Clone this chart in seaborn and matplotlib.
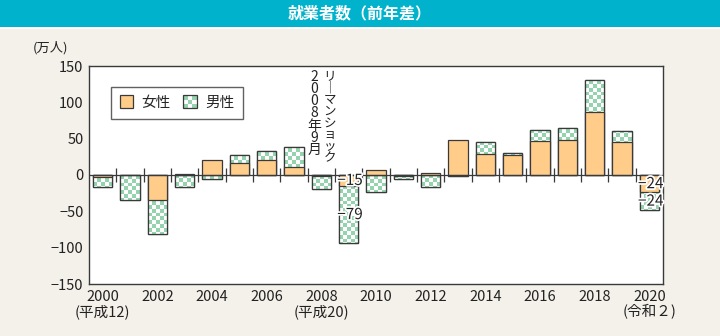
import numpy as np
import pandas as pd
import matplotlib
matplotlib.use("Agg")
import matplotlib.pyplot as plt
import seaborn as sns
from matplotlib.patches import Rectangle
from matplotlib.legend_handler import HandlerBase
import matplotlib.patheffects as pe

# ---- data (万人, change from previous year) ----
years = list(range(2000, 2021))
female = [-3, 0, -35, 2, 20, 17, 20, 11, -1, -15, 7, -1, 3, 48, 29, 27, 47, 48, 87, 46, -24]
male = [-14, -34, -46, -17, -5, 10, 13, 27, -18, -79, -23, -5, -17, -2, 16, 3, 15, 17, 44, 15, -24]
labeled_years = [2009, 2020]
tick_years = list(range(2000, 2021, 2))
tick_notes = {2000: "(平成12)", 2008: "(平成20)", 2020: "(令和２)"}
series_names = ["女性", "男性"]
title = "就業者数（前年差）"
unit_label = "(万人)"
event_col1 = "リ｜マンショック"
event_col2 = "2008年9月"
event_year = 2008

# ---- style ----
sns.set_style("white")
plt.rcParams["font.family"] = ["Noto Sans CJK JP", "DejaVu Sans"]
plt.rcParams["axes.unicode_minus"] = True

ORANGE = "#FFCC8A"
GREEN = "#94D3AD"
EDGE = "#3a3a3a"
BG = "#F4F1EA"
TEAL = "#00B2CB"
TXT = "#222222"

fig = plt.figure(figsize=(7.2, 3.36), dpi=100, facecolor=BG)
ax = fig.add_axes([89 / 720, 1 - 284 / 336, (663 - 89) / 720, (284 - 66) / 336])
ax.set_facecolor("white")

df = pd.DataFrame({"year": [str(y) for y in years], "female": female, "male": male})
same = np.sign(df["female"]) * np.sign(df["male"]) > 0
df["male_bottom"] = np.where(same, df["female"], 0)
df["male_disp"] = df["male_bottom"] + df["male"]

sns.barplot(data=df, x="year", y="male_disp", color=GREEN, saturation=1,
            edgecolor=EDGE, linewidth=0.9, width=0.7, ax=ax)
sns.barplot(data=df, x="year", y="female", color=ORANGE, saturation=1,
            edgecolor=EDGE, linewidth=0.9, width=0.7, ax=ax)
male_bars = ax.containers[0]
female_bars = ax.containers[1]

YMIN, YMAX = -150, 150
cell_y = 5.2
ny = int(round((YMAX - YMIN) / cell_y))
nx = 5
chk = np.add.outer(np.arange(ny), np.arange(nx)) % 2
g = np.array(matplotlib.colors.to_rgba(GREEN))
w = np.array([1, 1, 1, 1.0])
img = np.where(chk[..., None] == 0, g, w)

for p in male_bars.patches:
    p.set_zorder(2)
    x0, wd = p.get_x(), p.get_width()
    im = ax.imshow(img, extent=(x0, x0 + wd, YMIN, YMAX), origin="lower",
                   interpolation="nearest", aspect="auto", zorder=2.1)
    im.set_clip_path(p)
    ax.add_patch(Rectangle(p.get_xy(), p.get_width(), p.get_height(), fill=False,
                           edgecolor=EDGE, linewidth=0.9, zorder=2.2))
for p in female_bars.patches:
    p.set_zorder(3)

ax.set_xlim(-0.5, len(years) - 0.5)
ax.set_ylim(YMIN, YMAX)
ax.set_aspect("auto")

# zero line & category boundary ticks
ax.axhline(0, color=EDGE, lw=0.9, zorder=4)
ax.vlines(np.arange(len(years) - 1) + 0.5, -9.5, 9.5, color=EDGE, lw=0.9, zorder=4)

# value labels
for i, y in enumerate(years):
    if y in labeled_years:
        for val, ctr in [(female[i], female[i] / 2),
                         (male[i], df["male_bottom"][i] + male[i] / 2)]:
            ax.text(i + 0.05, ctr, f"{val}".replace("-", "−"), ha="center", va="center",
                    fontsize=11, color=TXT, zorder=6,
                    path_effects=[pe.withStroke(linewidth=2.5, foreground="white")])

# event annotation (vertical text)
ei = years.index(event_year)
ax.text(ei + 0.3, 145, "\n".join(event_col1), ha="center", va="top", fontsize=9,
        color=TXT, linespacing=0.87, zorder=6)
ax.text(ei - 0.25, 145, "\n".join(event_col2), ha="center", va="top", fontsize=10,
        color=TXT, linespacing=0.84, zorder=6)

# axes styling
ax.set_yticks(np.arange(-150, 151, 50))
ax.tick_params(axis="y", direction="in", length=5, width=0.9, colors=EDGE,
               labelcolor=TXT, labelsize=10.5, pad=4)
pos = [years.index(y) for y in tick_years]
labs = [str(y) + ("\n" + tick_notes[y] if y in tick_notes else "") for y in tick_years]
ax.set_xticks(pos)
ax.set_xticklabels(labs, linespacing=1.05)
ax.tick_params(axis="x", length=0, labelsize=10.5, labelcolor=TXT, pad=4)
ax.set_xlabel("")
ax.set_ylabel("")
for s in ax.spines.values():
    s.set_visible(True)
    s.set_color(EDGE)
    s.set_linewidth(1.0)


# legend with checker handle
class HandlerChecker(HandlerBase):
    def create_artists(self, legend, orig_handle, xdescent, ydescent, width, height,
                       fontsize, trans):
        arts = [Rectangle((-xdescent, -ydescent), width, height, facecolor=GREEN,
                          edgecolor="none", transform=trans)]
        n = 3
        cw, ch = width / n, height / n
        for r in range(n):
            for c in range(n):
                if (r + c) % 2 == 1:
                    arts.append(Rectangle((-xdescent + c * cw, -ydescent + r * ch), cw, ch,
                                          facecolor="white", edgecolor="none", transform=trans))
        arts.append(Rectangle((-xdescent, -ydescent), width, height, fill=False,
                              edgecolor=EDGE, linewidth=0.9, transform=trans))
        return arts


h_f = Rectangle((0, 0), 1, 1, facecolor=ORANGE, edgecolor=EDGE, linewidth=0.9)
h_m = Rectangle((0, 0), 1, 1, facecolor=GREEN, edgecolor=EDGE, linewidth=0.9)
leg = ax.legend([h_f, h_m], series_names, handler_map={h_m: HandlerChecker()},
                loc="upper left", bbox_to_anchor=(0.038, 0.905), borderaxespad=0, ncol=2,
                fontsize=10.5, handlelength=0.95, handleheight=0.95, handletextpad=0.55,
                columnspacing=0.85, borderpad=0.6, frameon=True, fancybox=False)
leg.get_frame().set_edgecolor(EDGE)
leg.get_frame().set_linewidth(1.0)
leg.set_zorder(7)

# title banner
fig.patches.append(Rectangle((0, 1 - 27 / 336), 1, 27 / 336, transform=fig.transFigure,
                             facecolor=TEAL, edgecolor="none", zorder=0))
fig.patches.append(Rectangle((0, 1 - 29 / 336), 1, 2 / 336, transform=fig.transFigure,
                             facecolor="white", edgecolor="none", zorder=0))
fig.text(0.5, 1 - 13.5 / 336, title, ha="center", va="center", color="white",
         fontsize=11.5, fontweight="bold")
fig.text(50 / 720, 1 - 48 / 336, unit_label, ha="center", va="center", color=TXT,
         fontsize=9.5)

fig.savefig("out.png", dpi=100, facecolor=BG)
